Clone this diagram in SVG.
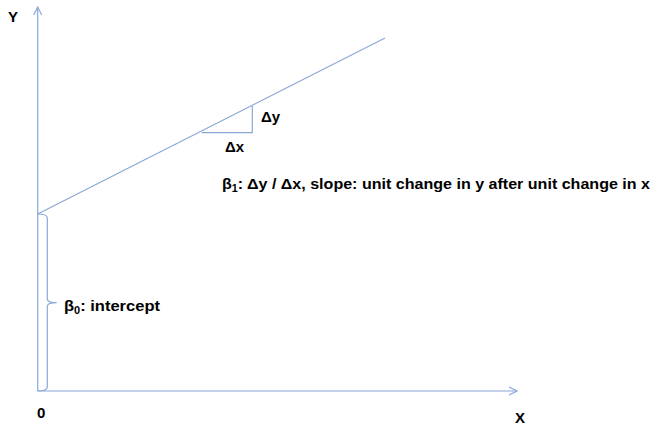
<svg xmlns="http://www.w3.org/2000/svg" width="654" height="426" viewBox="0 0 654 426">
<defs>
<style>
.ln{stroke:#8aa8d8;stroke-width:1.2;fill:none}
.t{font-family:"Liberation Sans",Arial,sans-serif;font-weight:bold;font-size:15px;fill:#000}
</style>
<marker id="arr" viewBox="0 0 10 10" refX="9" refY="5" markerWidth="10" markerHeight="10" markerUnits="userSpaceOnUse" orient="auto">
<path d="M1,1 L9,5 L1,9" class="ln"/>
</marker>
</defs>
<rect width="654" height="426" fill="#fff"/>
<g id="connectors">
<line id="y-axis" class="ln" x1="37.7" y1="391" x2="37.7" y2="7" marker-end="url(#arr)"/>
<line id="x-axis" class="ln" x1="37.7" y1="391" x2="517" y2="391" marker-end="url(#arr)"/>
<line id="regression" class="ln" x1="37.7" y1="214" x2="385" y2="38"/>
<path id="triangle" class="ln" d="M201.7,132.7 H252.3 V105.7"/>
<path id="brace" class="ln" d="M37.7,214 Q47.3,214 47.3,218 V299 Q47.3,302.7 56.7,302.7 Q47.3,302.7 47.3,306.5 V387 Q47.3,391 37.7,391"/>
</g>
<g id="label-y"><text class="t" x="8" y="22">Y</text></g>
<g id="label-x"><text class="t" x="515" y="423">X</text></g>
<g id="label-0"><text class="t" x="37" y="418">0</text></g>
<g id="label-dy"><text class="t" x="261" y="122">Δy</text></g>
<g id="label-dx"><text class="t" x="225" y="152">Δx</text></g>
<g id="label-b1"><text class="t" x="222" y="189" textLength="428" lengthAdjust="spacingAndGlyphs">β<tspan font-size="10" dy="3">1</tspan><tspan dy="-3">: Δy / Δx, slope: unit change in y after unit change in x</tspan></text></g>
<g id="label-b0"><text class="t" x="64" y="311" textLength="96" lengthAdjust="spacingAndGlyphs">β<tspan font-size="10" dy="3">0</tspan><tspan dy="-3">: intercept</tspan></text></g>
</svg>
